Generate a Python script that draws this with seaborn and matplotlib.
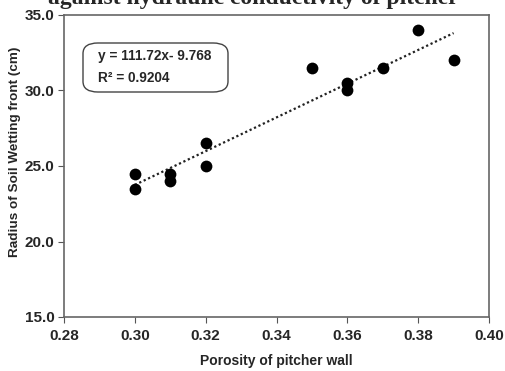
import matplotlib
matplotlib.use("Agg")
import matplotlib.pyplot as plt
from matplotlib.patches import FancyBboxPatch
import seaborn as sns
import numpy as np
import pandas as pd

porosity = [0.30, 0.30, 0.31, 0.31, 0.32, 0.32, 0.35, 0.36, 0.36, 0.37, 0.38, 0.39]
radius = [24.5, 23.5, 24.5, 24.0, 26.5, 25.0, 31.5, 30.5, 30.0, 31.5, 34.0, 32.0]
slope = 111.72
intercept = -9.768
r2 = 0.9204
x_ticks = [0.28, 0.30, 0.32, 0.34, 0.36, 0.38, 0.40]
y_ticks = [15.0, 20.0, 25.0, 30.0, 35.0]

df = pd.DataFrame({"porosity": porosity, "radius": radius})

sns.set_theme(style="white")
plt.rcParams['font.family'] = ['Liberation Sans', 'DejaVu Sans']

W, H = 505, 371
fig = plt.figure(figsize=(W / 100, H / 100), dpi=100)
L, R, T, B = 64, 489, 15, 317
ax = fig.add_axes([L / W, 1 - B / H, (R - L) / W, (B - T) / H])

def ax_frac(px, py):
    return (px - L) / (R - L), 1 - (py - T) / (B - T)

sns.scatterplot(data=df, x="porosity", y="radius", ax=ax, color="black",
                s=72, edgecolor="black", linewidth=0, zorder=3)

xl = np.array([min(porosity), max(porosity)])
ax.plot(xl, slope * xl + intercept, color="#222222", linestyle=(0, (1, 1.2)), linewidth=1.6, zorder=2)

ax.set_xlim(0.28, 0.40)
ax.set_ylim(15, 35)
ax.set_xticks(x_ticks)
ax.set_xticklabels([f"{t:.2f}" for t in x_ticks], fontweight="bold", fontsize=11)
ax.set_yticks(y_ticks)
ax.set_yticklabels([f"{t:.1f}" for t in y_ticks], fontweight="bold", fontsize=11)
ax.tick_params(axis="both", direction="out", length=4, width=0.8, color="#555555", pad=3, bottom=True, left=True)
ax.tick_params(axis="x", pad=5)
for sp in ax.spines.values():
    sp.set_color("#666666")
    sp.set_linewidth(1.2)

ax.set_xlabel("Porosity of pitcher wall", fontweight="bold", fontsize=10)
ax.set_ylabel("Radius of Soil Wetting front (cm)", fontweight="bold", fontsize=9.7)
ax.xaxis.label.set_va("center")
ax.yaxis.label.set_va("center")
ax.xaxis.set_label_coords(*ax_frac(276, 361))
ax.yaxis.set_label_coords(*ax_frac(15, 152))

# equation box
x0, y0 = ax_frac(83, 92)
x1, y1 = ax_frac(228, 43)
box = FancyBboxPatch((x0, y0), x1 - x0, y1 - y0, transform=ax.transAxes,
                     boxstyle="round,pad=0,rounding_size=0.035", facecolor="white",
                     edgecolor="#444444", linewidth=1.0, zorder=4)
ax.add_patch(box)
tx, ty1 = ax_frac(98, 56)
_, ty2 = ax_frac(98, 78)
ax.text(tx, ty1, f"y = {slope}x- {abs(intercept)}", transform=ax.transAxes, fontsize=9.8,
        fontweight="bold", va="center", ha="left", zorder=5)
ax.text(tx, ty2, f"R² = {r2}", transform=ax.transAxes, fontsize=9.8,
        fontweight="bold", va="center", ha="left", zorder=5)

fig.text(253 / W, 1.003, "against hydraulic conductivity of pitcher", ha="center", va="center",
         fontsize=17, fontweight="bold", family=["Liberation Serif", "DejaVu Serif"])

fig.savefig("out.png", dpi=100)
